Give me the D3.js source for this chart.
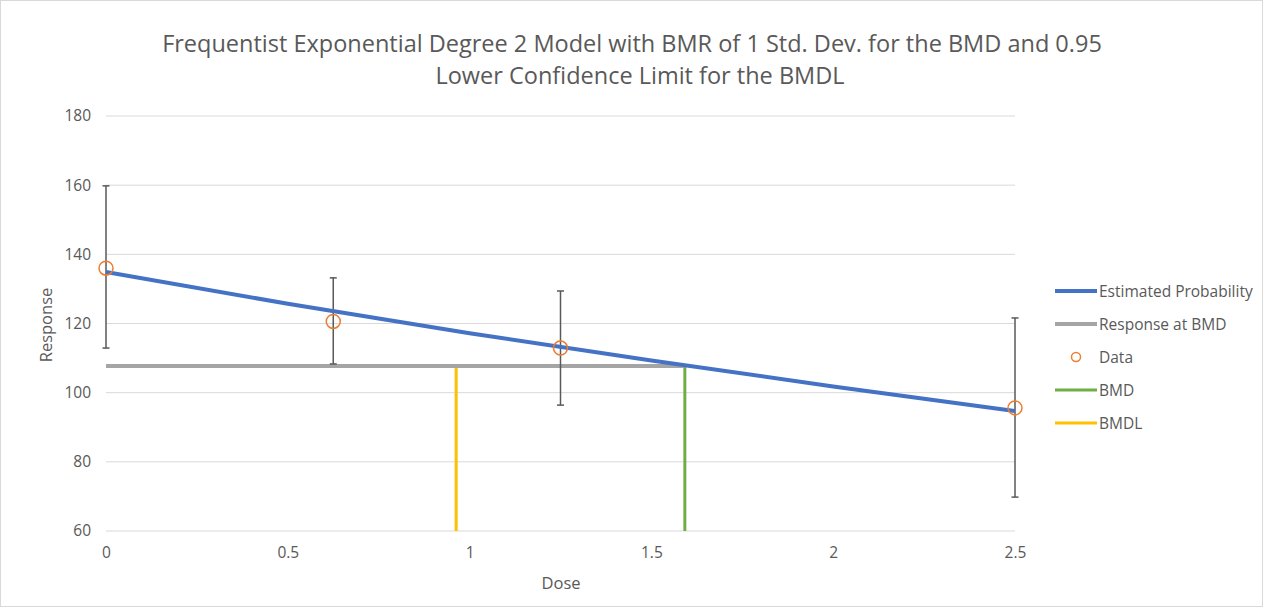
<!DOCTYPE html>
<html>
<head>
<meta charset="utf-8">
<script src="https://cdn.jsdelivr.net/npm/d3@7"></script>
<style>
  html, body { margin: 0; padding: 0; background: #fff; }
  svg text { font-family: "Open Sans", "Liberation Sans", sans-serif; }
</style>
</head>
<body>
<svg id="chart" width="1263" height="611"></svg>
<script>
// Observed data: dose, mean response, error bar bounds
const doses = [0, 0.625, 1.25, 2.5];
const means = [136.0, 120.6, 112.9, 95.6];
const errLow = [112.9, 108.3, 96.4, 69.8];
const errHigh = [159.8, 133.2, 129.4, 121.6];

// Fitted model curve (Exponential degree 2)
const curveDose = [0, 0.5, 1, 1.5, 2, 2.5];
const curveResp = [134.9, 125.7, 117.2, 109.3, 101.8, 94.7];

// Benchmark dose results
const bmd = 1.592;
const bmdl = 0.963;
const bmdResponse = 107.7;

const xTicks = [0, 0.5, 1, 1.5, 2, 2.5];
const yTicks = [60, 80, 100, 120, 140, 160, 180];

const legendLabels = ["Estimated Probability", "Response at BMD", "Data", "BMD", "BMDL"];
const legendColors = ["#4472c4", "#a5a5a5", "#ed7d31", "#70ad47", "#ffc000"];

const svg = d3.select("#chart");

// chart frame
svg.append("rect").attr("x", 0.5).attr("y", 0.5).attr("width", 1262).attr("height", 606)
  .attr("fill", "none").attr("stroke", "#d9d9d9");

const x = d3.scaleLinear().domain([0, 2.5]).range([106, 1015]);
const y = d3.scaleLinear().domain([60, 180]).range([531, 116]);

// gridlines
svg.append("g").selectAll("line").data(yTicks).join("line")
  .attr("x1", x(0)).attr("x2", x(2.5))
  .attr("y1", d => y(d)).attr("y2", d => y(d))
  .attr("stroke", "#d9d9d9").attr("stroke-width", 1);

// axes
const yAxis = svg.append("g").attr("transform", `translate(${x(0)},0)`)
  .call(d3.axisLeft(y).tickValues(yTicks).tickSize(0).tickPadding(15));
yAxis.select(".domain").remove();
yAxis.selectAll("text").attr("font-size", 15.5).attr("fill", "#595959");

const xAxis = svg.append("g").attr("transform", `translate(0,${y(60)})`)
  .call(d3.axisBottom(x).tickValues(xTicks).tickFormat(d3.format("")).tickSize(0).tickPadding(16));
xAxis.select(".domain").remove();
xAxis.selectAll("text").attr("font-size", 15.5).attr("fill", "#595959");

// axis titles
svg.append("text").attr("x", 561).attr("y", 589).attr("text-anchor", "middle")
  .attr("font-size", 16.5).attr("fill", "#595959").text("Dose");
svg.append("text").attr("transform", "translate(52,325) rotate(-90)").attr("text-anchor", "middle")
  .attr("font-size", 16.5).attr("fill", "#595959").text("Response");

// title
const title = svg.append("text").attr("text-anchor", "middle").attr("fill", "#595959").attr("font-size", 23.5);
title.append("tspan").attr("x", 632).attr("y", 52)
  .text("Frequentist Exponential Degree 2 Model with BMR of 1 Std. Dev. for the BMD and 0.95");
title.append("tspan").attr("x", 640).attr("y", 84)
  .text("Lower Confidence  Limit for the BMDL");

// BMDL and BMD vertical lines
svg.append("line").attr("x1", x(bmdl)).attr("x2", x(bmdl)).attr("y1", y(60)).attr("y2", y(bmdResponse))
  .attr("stroke", legendColors[4]).attr("stroke-width", 3);
svg.append("line").attr("x1", x(bmd)).attr("x2", x(bmd)).attr("y1", y(60)).attr("y2", y(bmdResponse))
  .attr("stroke", legendColors[3]).attr("stroke-width", 3);

// response at BMD
svg.append("line").attr("x1", x(0)).attr("x2", x(bmd)).attr("y1", y(bmdResponse)).attr("y2", y(bmdResponse))
  .attr("stroke", legendColors[1]).attr("stroke-width", 4);

// error bars
const eb = svg.append("g").attr("stroke", "#595959").attr("stroke-width", 1.5);
doses.forEach((d, i) => {
  eb.append("line").attr("x1", x(d)).attr("x2", x(d)).attr("y1", y(errLow[i])).attr("y2", y(errHigh[i]));
  [errLow[i], errHigh[i]].forEach(v => {
    eb.append("line").attr("x1", x(d) - 3.5).attr("x2", x(d) + 3.5).attr("y1", y(v)).attr("y2", y(v));
  });
});

// fitted curve
svg.append("path").datum(curveDose.map((d, i) => [d, curveResp[i]]))
  .attr("d", d3.line().x(d => x(d[0])).y(d => y(d[1])).curve(d3.curveMonotoneX))
  .attr("fill", "none").attr("stroke", legendColors[0]).attr("stroke-width", 4);

// data points
svg.append("g").selectAll("circle").data(doses).join("circle")
  .attr("cx", d => x(d)).attr("cy", (d, i) => y(means[i])).attr("r", 7)
  .attr("fill", "none").attr("stroke", legendColors[2]).attr("stroke-width", 1.5);

// legend
const lg = svg.append("g");
legendLabels.forEach((lab, i) => {
  const ly = 291 + i * 33;
  if (lab === "Data") {
    lg.append("circle").attr("cx", 1076).attr("cy", ly).attr("r", 4.5)
      .attr("fill", "none").attr("stroke", legendColors[i]).attr("stroke-width", 1.5);
  } else {
    lg.append("line").attr("x1", 1055).attr("x2", 1097).attr("y1", ly).attr("y2", ly)
      .attr("stroke", legendColors[i]).attr("stroke-width", i < 2 ? 4 : 3);
  }
  lg.append("text").attr("x", 1099).attr("y", ly + 5.5).attr("font-size", 15.5).attr("fill", "#595959").text(lab);
});
</script>
</body>
</html>
